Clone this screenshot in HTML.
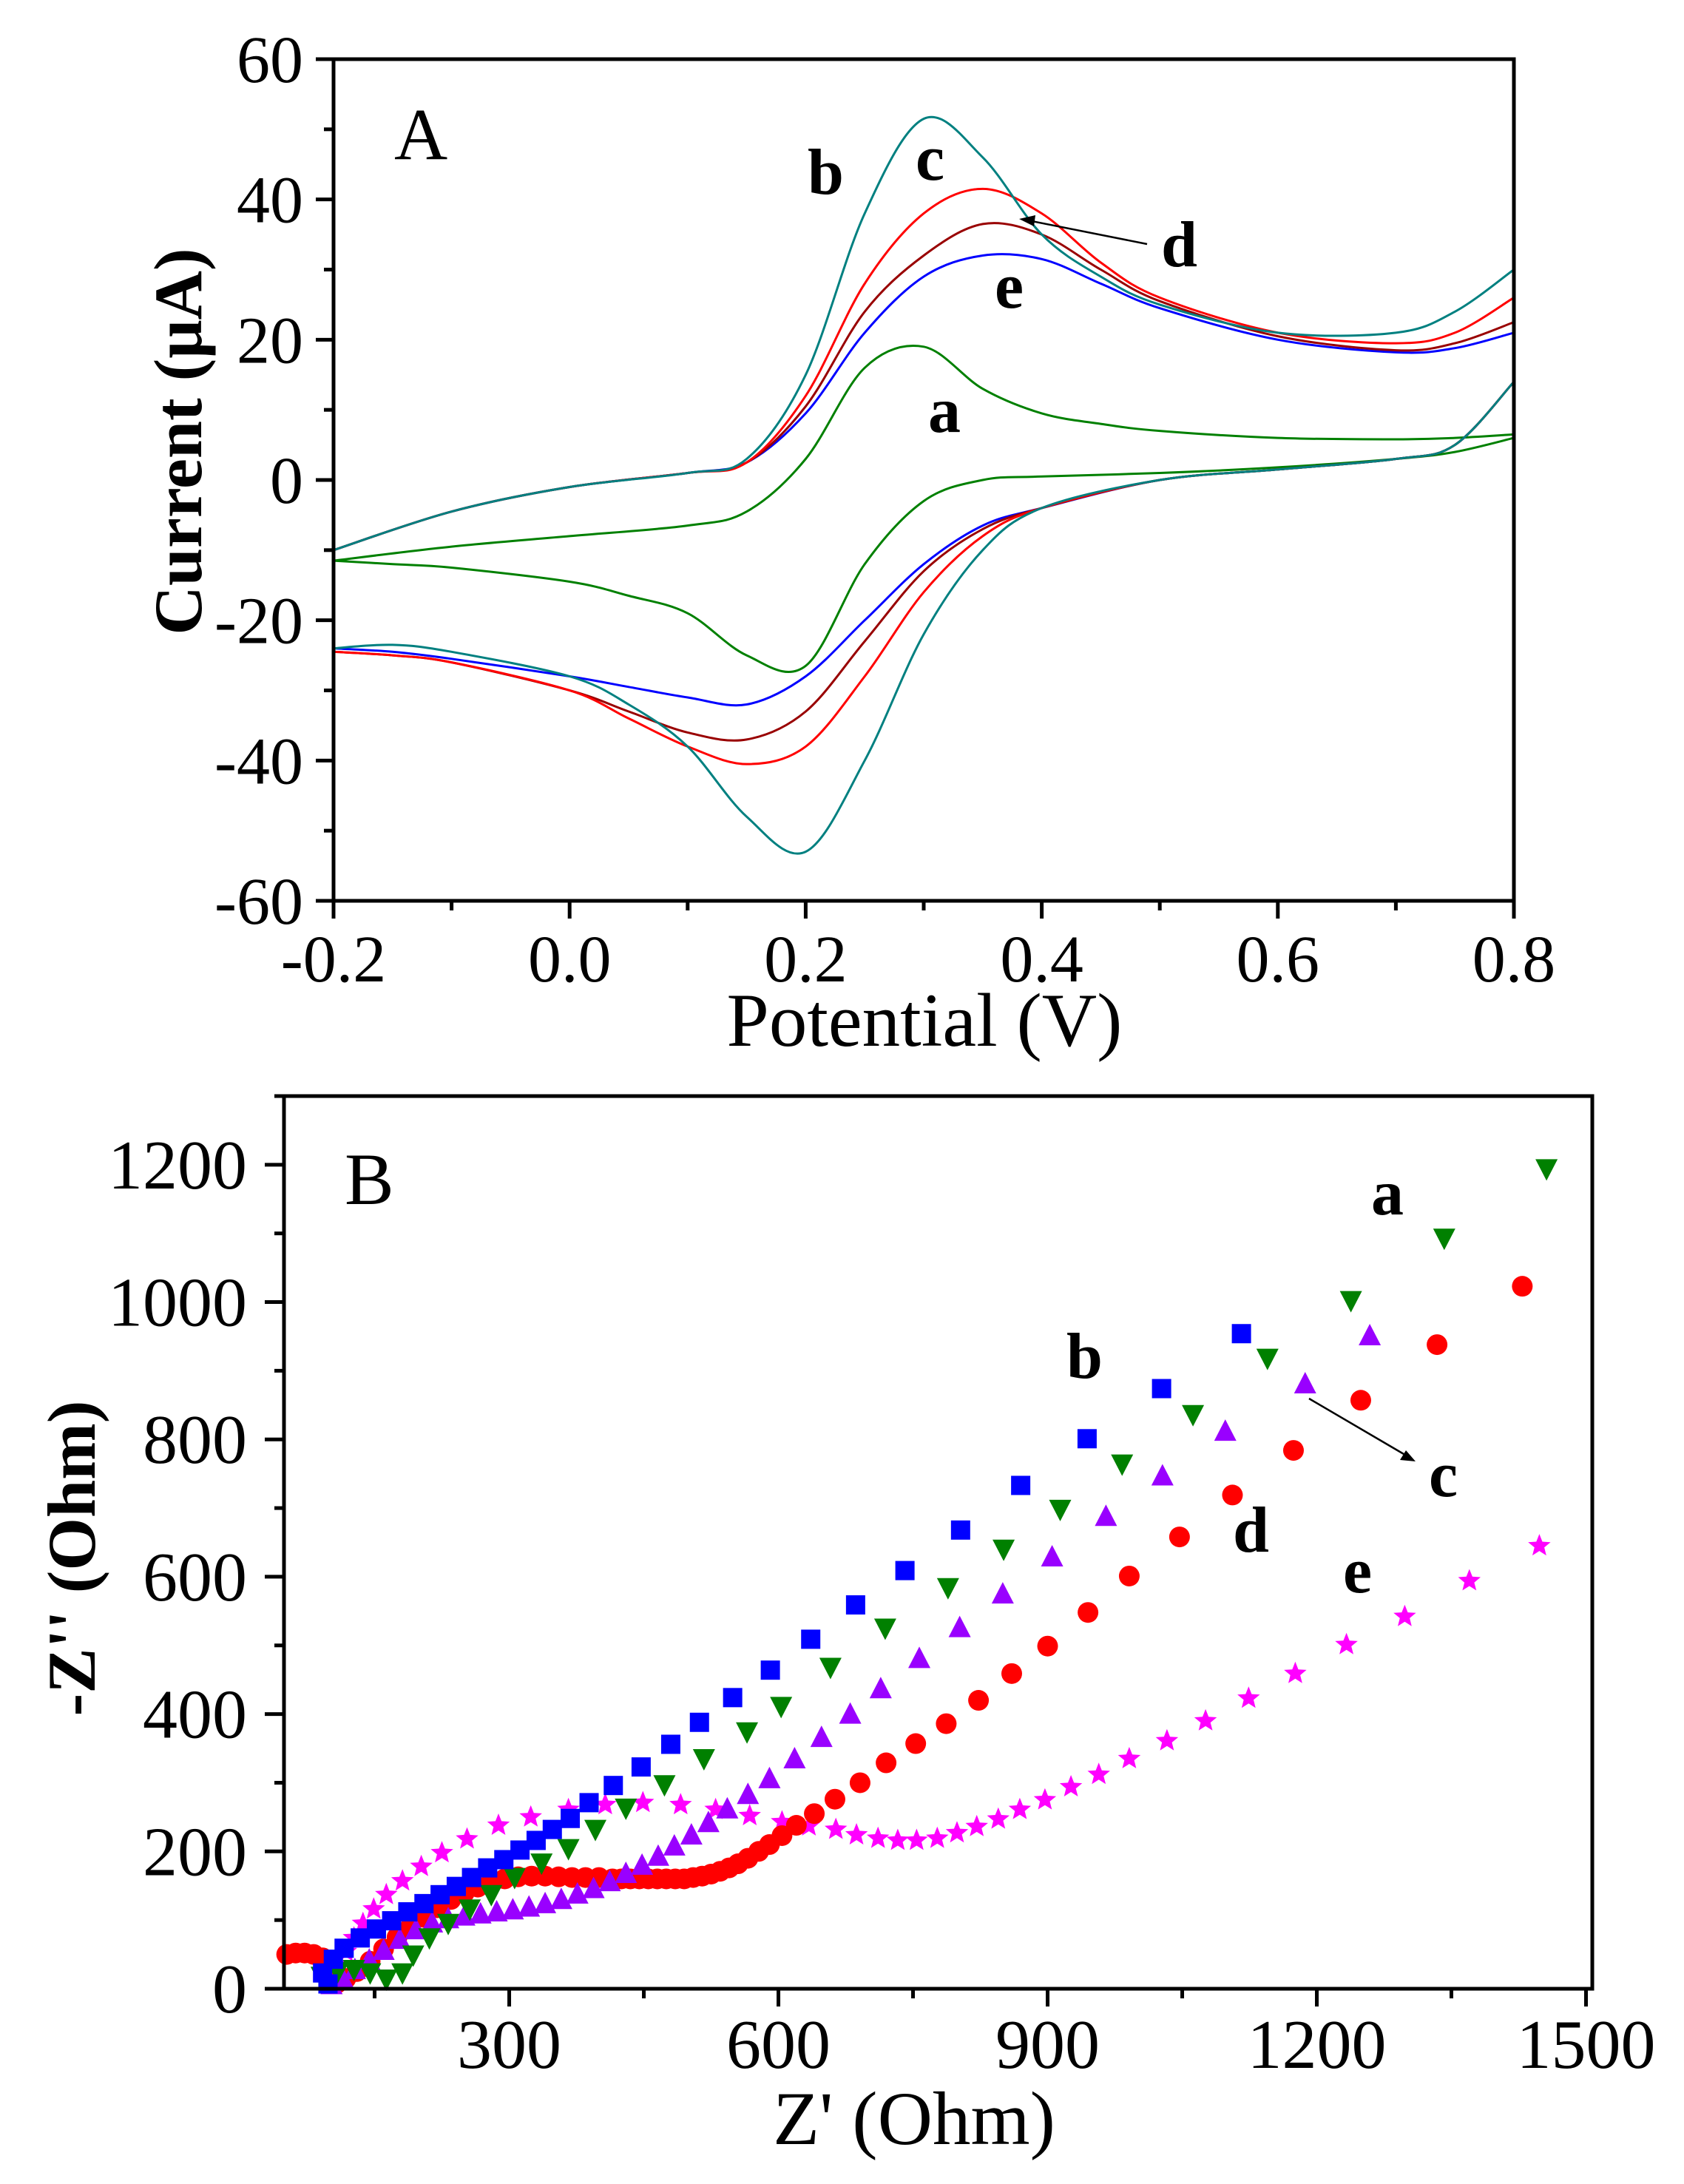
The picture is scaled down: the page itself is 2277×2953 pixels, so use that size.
<!DOCTYPE html>
<html><head><meta charset="utf-8">
<style>
html,body{margin:0;padding:0;background:#fff;}
svg{display:block;}
text{font-family:"Liberation Serif",serif;}
</style></head>
<body>
<svg id="fig" width="2277" height="2953" viewBox="0 0 2277 2953" xmlns="http://www.w3.org/2000/svg">
<rect width="2277" height="2953" fill="#fff"/>
<g id="panelA"></g>
<g id="panelB"></g>
</svg>
<script>
// ---------- Panel A data (cyclic voltammetry) ----------
const fwdPotential = [-0.2,-0.1,0,0.1,0.15,0.2,0.25,0.3,0.35,0.4,0.45,0.5,0.6,0.7,0.75,0.8];
const revPotential = [0.8,0.75,0.7,0.6,0.5,0.4,0.35,0.3,0.25,0.2,0.15,0.1,0.05,0,-0.1,-0.15,-0.2];
const cvFwdA = [-11.5,-9.5,-8,-6.5,-4.5,3,16,19,13,9.5,8,7,6,5.8,6,6.5];
const cvRevA = [6,4,3,1.8,1,0.5,0,-3,-12,-26.5,-25,-19,-16.5,-14.5,-12.5,-12,-11.5];
const cvFwdB = [-10,-4.5,-1,1,3,15,38,51.5,46,35,29,25,21,21,24,30];
const cvRevB = [14,5,3,1.5,0,-4,-10,-22,-40,-53,-48,-38,-32,-28,-24.5,-23.5,-24];
const cvFwdC = [-10,-4.5,-1,1,2.5,12,28,38,41.5,38,31,26,21,19.5,21,26];
const cvRevC = [14,5,3,1.5,0,-4,-8,-16,-28,-38,-40.5,-38,-34,-30,-26,-25,-24.5];
const cvFwdD = [-10,-4.5,-1,1,2.5,10.5,24,32,36.5,35,30,25.5,20.5,18.5,19.5,22.5];
const cvRevD = [14,5,3,1.5,0,-4,-7,-13,-23,-33,-37,-36,-33,-30,-26,-25,-24.5];
const cvFwdE = [-10,-4.5,-1,1,2.5,9.5,21,29,32,31.5,28,24.5,20,18.2,18.8,21];
const cvRevE = [14,5,3,1.5,0,-4,-6.5,-12,-20,-28,-32,-31,-29.5,-28,-25.5,-24.5,-24];
const xTicksA = ["-0.2","0.0","0.2","0.4","0.6","0.8"];
const yTicksA = ["-60","-40","-20","0","20","40","60"];

// ---------- Panel B data (Nyquist) ----------
const eisAx = [1456,1342,1238,1145,1062,983,914,851,789,719,658,603,565,517,473,430,396,366,336,306,280,256,232,211,193,181,163,145,127,109,91];
const eisAy = [1194,1093,1002,918,836,764,698,640,584,525,468,411,374,335,297,263,232,204,183,162,137,116,95,74,49,23,14,23,28,25,18];
const eisBx = [1116,1027,944,870,803,741,686,636,591,549,512,480,447,416,389,368,348,330,312,294,276,258,241,223,205,187,169,152,134,116,104,92,98];
const eisBy = [954,874,801,733,668,609,559,509,464,424,388,356,323,296,271,248,232,216,202,188,176,162,149,137,124,112,99,87,74,59,43,23,7];
const eisCx = [1259,1187,1098,1028,965,905,850,802,757,714,680,648,618,590,566,543,522,503,484,466,448,430,412,394,376,358,340,322,304,286,268,250,232,214,196,178,160,144,128,114,102];
const eisCy = [951,881,812,747,688,629,575,526,481,437,400,366,335,306,283,262,242,224,208,193,180,168,156,146,138,130,124,119,115,112,109,106,102,96,86,72,56,42,28,16,6];
const eisDx = [1429,1334,1249,1174,1106,1047,991,945,900,860,823,787,753,720,691,663,640,620,604,590,578,566,555,545,535,525,515,505,495,485,475,465,455,445,435,425,415,400,385,370,355,340,325,310,295,280,265,250,235,220,205,190,175,160,145,130,118,108,100,92,82,72,62,52];
const eisDy = [1023,938,857,784,719,658,601,548,499,459,420,386,357,329,300,276,255,238,223,210,200,190,182,176,171,167,164,162,160,160,160,160,160,160,160,160,160,162,162,162,163,164,164,163,160,155,148,140,130,118,104,90,75,58,40,25,15,8,30,45,50,52,52,50];
const eisEx = [1448,1370,1298,1233,1176,1124,1076,1033,991,957,926,897,869,845,821,799,777,754,733,711,687,664,634,604,568,530,491,449,407,366,324,288,253,225,202,181,163,149,137,127,118,110,103];
const eisEy = [645,594,542,501,459,423,390,361,335,312,294,275,261,247,236,227,219,216,216,219,224,232,237,243,252,261,268,271,268,261,250,238,218,198,178,157,137,116,95,74,54,35,18];
const xTicksB = ["300","600","900","1200","1500"];
const yTicksB = ["0","200","400","600","800","1000","1200"];

const NS = "http://www.w3.org/2000/svg";
function mk(parent, tag, attrs){ const e=document.createElementNS(NS,tag); for(const k in attrs) e.setAttribute(k,attrs[k]); parent.appendChild(e); return e; }
function smooth(pts){
  let d="M"+pts[0][0].toFixed(1)+","+pts[0][1].toFixed(1);
  for(let i=0;i<pts.length-1;i++){
    const p0=pts[i-1]||pts[i], p1=pts[i], p2=pts[i+1], p3=pts[i+2]||p2;
    const c1=[p1[0]+(p2[0]-p0[0])/6, p1[1]+(p2[1]-p0[1])/6];
    const c2=[p2[0]-(p3[0]-p1[0])/6, p2[1]-(p3[1]-p1[1])/6];
    d+=" C"+c1[0].toFixed(1)+","+c1[1].toFixed(1)+" "+c2[0].toFixed(1)+","+c2[1].toFixed(1)+" "+p2[0].toFixed(1)+","+p2[1].toFixed(1);
  }
  return d;
}

// ================= Panel A =================
const A = document.getElementById('panelA');
const aL=451,aR=2047,aT=80,aB=1218;
const ax = v => aL+(v+0.2)/1.0*(aR-aL);
const ay = v => aT+(60-v)/120*(aB-aT);
const cvSeries=[
 {name:'cv-curve-a',c:'#008000',f:cvFwdA,r:cvRevA},
 {name:'cv-curve-e',c:'#0000ff',f:cvFwdE,r:cvRevE},
 {name:'cv-curve-d',c:'#990000',f:cvFwdD,r:cvRevD},
 {name:'cv-curve-c',c:'#ff0000',f:cvFwdC,r:cvRevC},
 {name:'cv-curve-b',c:'#008080',f:cvFwdB,r:cvRevB}
];
cvSeries.forEach(s=>{
  const pf=fwdPotential.map((v,i)=>[ax(v),ay(s.f[i])]);
  const pr=revPotential.map((v,i)=>[ax(v),ay(s.r[i])]);
  const p=mk(A,'path',{d:smooth(pf)+" L"+pr[0][0]+","+pr[0][1]+" "+smooth(pr).slice(1).replace(/^[^C]*/,""),fill:'none',stroke:s.c,'stroke-width':3});
  
  
});
const fa=mk(A,'rect',{x:aL,y:aT,width:aR-aL,height:aB-aT,fill:'none',stroke:'#000','stroke-width':5});


for(let i=0;i<=10;i++){
  const v=-0.2+i*0.1, x=ax(v), major=i%2===0;
  const t=mk(A,'line',{x1:x,y1:aB,x2:x,y2:aB+(major?24:13),stroke:'#000','stroke-width':5});
  
  
}
xTicksA.forEach((s,i)=>{
  const t=mk(A,'text',{x:ax(-0.2+i*0.2),y:1327,'font-size':90,'text-anchor':'middle'});
  t.textContent=s;
  
  
});
for(let i=0;i<=12;i++){
  const v=-60+i*10, y=ay(v), major=i%2===0;
  const t=mk(A,'line',{x1:aL-(major?24:13),y1:y,x2:aL,y2:y,stroke:'#000','stroke-width':5});
  
  
}
yTicksA.forEach((s,i)=>{
  const t=mk(A,'text',{x:410,y:ay(-60+i*20)+31,'font-size':90,'text-anchor':'end'});
  t.textContent=s;
  
  
});
(function(){
  let t=mk(A,'text',{x:1250,y:1414,'font-size':103,'text-anchor':'middle'}); t.textContent='Potential (V)';
   
  t=mk(A,'text',{x:0,y:0,'font-size':92,'font-weight':'bold','text-anchor':'middle',transform:'translate(272,597) rotate(-90)'}); t.textContent='Current (\u03bcA)';
   
  t=mk(A,'text',{x:533,y:215,'font-size':100}); t.textContent='A';
   
  const labs=[['b',1092,262],['c',1238,243],['d',1570,360],['e',1345,416],['a',1255,584]];
  labs.forEach(l=>{const e=mk(A,'text',{x:l[1],y:l[2],'font-size':88,'font-weight':'bold'}); e.textContent=l[0];
     });
  const ar=mk(A,'line',{x1:1551,y1:330,x2:1395,y2:299,stroke:'#000','stroke-width':2.5});
   
  const ah=mk(A,'polygon',{points:'1378,296 1400,291 1398,306',fill:'#000'});
   
})();

// ================= Panel B =================
const B=document.getElementById('panelB');
const bL=384,bR=2153,bT=1482,bB=2689;
const bx=v=>bL+(v-49)*(bR-bL)/(1507-49);
const by=v=>bB-v*(bB-bT)/1300;
function marker(g,type,x,y,c){
  const s=13;
  if(type==='square') return mk(g,'rect',{x:x-s,y:y-s,width:2*s,height:2*s,fill:c});
  if(type==='circle') return mk(g,'circle',{cx:x,cy:y,r:s+1,fill:c});
  if(type==='up') return mk(g,'polygon',{points:`${x},${y-s-3} ${x+s+2},${y+s} ${x-s-2},${y+s}`,fill:c});
  if(type==='down') return mk(g,'polygon',{points:`${x},${y+s+3} ${x+s+2},${y-s} ${x-s-2},${y-s}`,fill:c});
  let pts=[];for(let k=0;k<10;k++){const r=k%2?7:16,a=-Math.PI/2+k*Math.PI/5;pts.push((x+r*Math.cos(a)).toFixed(1)+','+(y+r*Math.sin(a)).toFixed(1));}
  return mk(g,'polygon',{points:pts.join(' '),fill:c});
}
const eisSeries=[
 {name:'eis-series-e',t:'star',c:'#ff00ff',x:eisEx,y:eisEy},
 {name:'eis-series-d',t:'circle',c:'#ff0000',x:eisDx,y:eisDy},
 {name:'eis-series-c',t:'up',c:'#9900ff',x:eisCx,y:eisCy},
 {name:'eis-series-a',t:'down',c:'#008000',x:eisAx,y:eisAy},
 {name:'eis-series-b',t:'square',c:'#0000ff',x:eisBx,y:eisBy}
];
eisSeries.forEach(s=>{
  const g=mk(B,'g',{});
  
  
  s.x.forEach((v,i)=>{
    const m=marker(g,s.t,bx(v),by(s.y[i]),s.c);
    
    
  });
});
const fb=mk(B,'rect',{x:bL,y:bT,width:bR-bL,height:bB-bT,fill:'none',stroke:'#000','stroke-width':5});


for(let i=1;i<=10;i++){
  const v=i*150,x=bx(v),major=i%2===0;
  const t=mk(B,'line',{x1:x,y1:bB,x2:x,y2:bB+(major?24:13),stroke:'#000','stroke-width':5});
  
  
}
xTicksB.forEach((s,i)=>{
  const t=mk(B,'text',{x:bx(300+i*300),y:2796,'font-size':94,'text-anchor':'middle'});
  t.textContent=s;
  
  
});
for(let i=0;i<=13;i++){
  const y=by(i*100),major=i%2===0;
  const t=mk(B,'line',{x1:bL-(major?26:13),y1:y,x2:bL,y2:y,stroke:'#000','stroke-width':5});
  
  
}
yTicksB.forEach((s,i)=>{
  const t=mk(B,'text',{x:334,y:by(i*200)+32,'font-size':94,'text-anchor':'end'});
  t.textContent=s;
  
  
});
(function(){
  let t=mk(B,'text',{x:1236,y:2899,'font-size':103,'text-anchor':'middle'}); t.textContent="Z' (Ohm)";
   
  t=mk(B,'text',{x:0,y:0,'font-size':92,'font-weight':'bold','text-anchor':'middle',transform:'translate(128,2107) rotate(-90)'}); t.textContent="-Z'' (Ohm)";
   
  t=mk(B,'text',{x:466,y:1628,'font-size':100}); t.textContent='B';
   
  const labs=[['a',1854,1642],['b',1442,1863],['c',1932,2023],['d',1667,2098],['e',1816,2153]];
  labs.forEach(l=>{const e=mk(B,'text',{x:l[1],y:l[2],'font-size':88,'font-weight':'bold'}); e.textContent=l[0];
     });
  const ar=mk(B,'line',{x1:1770,y1:1891,x2:1898,y2:1966,stroke:'#000','stroke-width':2.5});
   
  const ah=mk(B,'polygon',{points:'1914,1976 1893,1974 1901,1961',fill:'#000'});
   
})();
</script>
</body></html>
